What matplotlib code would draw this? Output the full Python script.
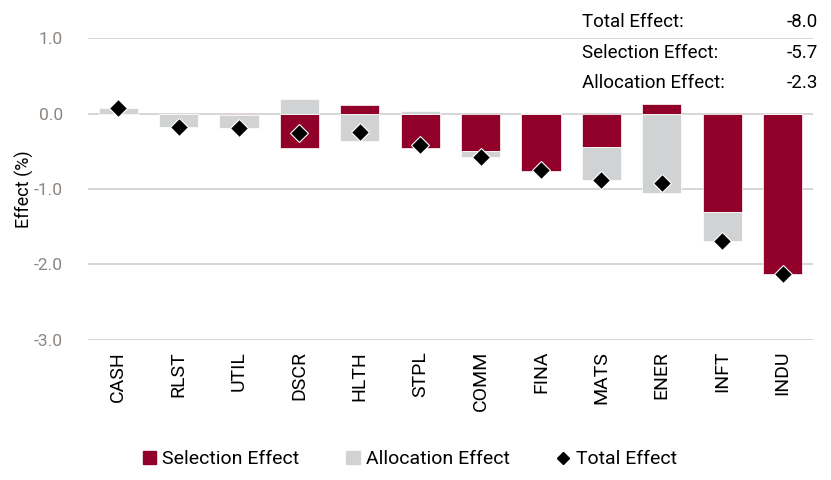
import numpy as np
import matplotlib.pyplot as plt
from matplotlib.lines import Line2D
from matplotlib.patches import Patch

plt.rcParams['font.family'] = ['Roboto', 'DejaVu Sans']

# Data
sectors = ['CASH', 'RLST', 'UTIL', 'DSCR', 'HLTH', 'STPL',
           'COMM', 'FINA', 'MATS', 'ENER', 'INFT', 'INDU']
selection = [0.00, 0.00, -0.02, -0.45, 0.12, -0.45,
             -0.49, -0.76, -0.44, 0.13, -1.30, -2.12]
allocation = [0.07, -0.17, -0.17, 0.20, -0.36, 0.03,
              -0.08, 0.01, -0.44, -1.05, -0.39, 0.00]
total = [s + a for s, a in zip(selection, allocation)]
summary_labels = ['Total Effect:', 'Selection Effect:', 'Allocation Effect:']
summary_values = ['-8.0', '-5.7', '-2.3']

red = '#910028'
grey = '#d1d2d4'

sel = np.array(selection)
alloc = np.array(allocation)
x = np.arange(len(sectors))

# stack positives up and negatives down, selection nearest zero
sel_base = np.zeros(len(sel))
alloc_base = np.where(np.sign(alloc) == np.sign(sel), sel, 0.0)

fig = plt.figure(figsize=(8.31, 4.8), dpi=100)
ax = fig.add_axes([0.106, 0.292, 0.872, 0.628])

w = 0.65
ax.bar(x, sel, w, bottom=sel_base, color=red, edgecolor='white', linewidth=0.5, zorder=2)
ax.bar(x, alloc, w, bottom=alloc_base, color=grey, edgecolor='white', linewidth=0.5, zorder=2)
ax.plot(x, total, linestyle='none', marker='D', markersize=9, color='black',
        markeredgecolor='white', markeredgewidth=0.8, zorder=3)

ax.set_xlim(-0.5, len(sectors) - 0.5)
ax.set_ylim(-3.0, 1.0)
ax.set_yticks([1.0, 0.0, -1.0, -2.0, -3.0])
ax.set_yticklabels(['1.0', '0.0', '-1.0', '-2.0', '-3.0'])
ax.yaxis.grid(True, color='#d0d0d0', linewidth=1.2, zorder=0)
ax.set_axisbelow(True)
for s in ax.spines.values():
    s.set_visible(False)
ax.tick_params(axis='y', length=0, labelsize=12.5, labelcolor='#8c8580', pad=18)
ax.tick_params(axis='x', length=0, labelsize=14, pad=8)
ax.set_xticks(x)
ax.set_xticklabels(sectors, rotation=90)
ax.set_ylabel('Effect (%)', fontsize=13, labelpad=0)

# summary box text
for i, (lab, val) in enumerate(zip(summary_labels, summary_values)):
    y = 0.954 - i * 0.0635
    fig.text(0.700, y, lab, fontsize=13.5, va='center', ha='left')
    fig.text(0.984, y, val, fontsize=13.5, va='center', ha='right')

handles = [Patch(color=red), Patch(color=grey),
           Line2D([], [], marker='D', color='black', linestyle='none', markersize=6)]
fig.legend(handles, ['Selection Effect', 'Allocation Effect', 'Total Effect'],
           loc='center', bbox_to_anchor=(0.493, 0.043), ncol=3, frameon=False,
           fontsize=14, handlelength=0.7, handletextpad=0.3, columnspacing=2.4)

fig.savefig('out.png', dpi=100)
